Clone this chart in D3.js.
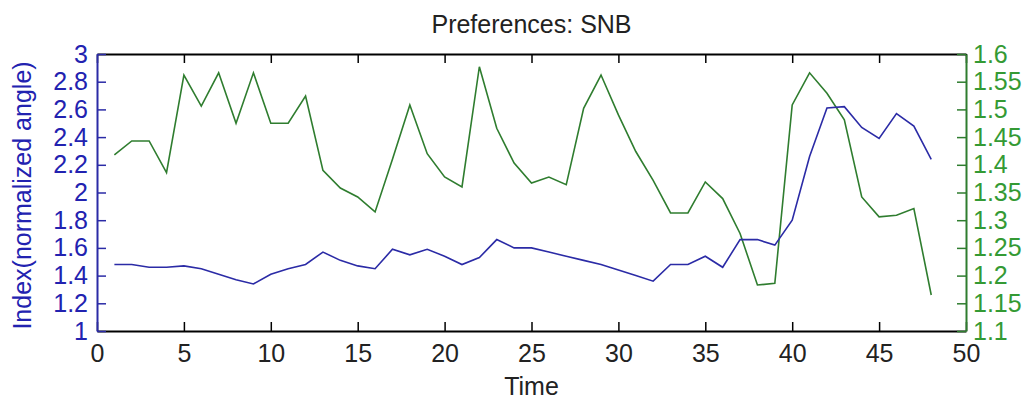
<!DOCTYPE html>
<html>
<head>
<meta charset="utf-8">
<script src="https://cdn.jsdelivr.net/npm/d3@7"></script>
<style>
  body { margin: 0; background: #fff; }
  svg text { font-family: "Liberation Sans", Arial, sans-serif; }
</style>
</head>
<body>
<svg id="chart"></svg>
<script>
const width = 1027;
const height = 401;
const margin = {top: 54, right: 61, bottom: 70, left: 97};

// data
const time = d3.range(1, 49);
const indexValues = [1.48, 1.48, 1.46, 1.46, 1.47, 1.45, 1.41, 1.37, 1.34, 1.41,
                     1.45, 1.48, 1.57, 1.51, 1.47, 1.45, 1.59, 1.55, 1.59, 1.54,
                     1.48, 1.53, 1.66, 1.60, 1.60, 1.57, 1.54, 1.51, 1.48, 1.44,
                     1.40, 1.36, 1.48, 1.48, 1.54, 1.46, 1.66, 1.66, 1.62, 1.80,
                     2.26, 2.61, 2.62, 2.47, 2.39, 2.57, 2.48, 2.24];
const prefValues = [1.418, 1.443, 1.443, 1.386, 1.562, 1.506, 1.566, 1.475, 1.566, 1.475,
                    1.475, 1.524, 1.390, 1.358, 1.342, 1.315, 1.410, 1.508, 1.420, 1.378,
                    1.360, 1.577, 1.466, 1.403, 1.367, 1.378, 1.364, 1.502, 1.562, 1.490,
                    1.424, 1.372, 1.313, 1.313, 1.369, 1.339, 1.276, 1.183, 1.186, 1.508,
                    1.566, 1.529, 1.481, 1.342, 1.306, 1.309, 1.321, 1.165];
const xTicks = d3.range(0, 51, 5);
const yLeftTicks = [1, 1.2, 1.4, 1.6, 1.8, 2, 2.2, 2.4, 2.6, 2.8, 3];
const yRightTicks = [1.1, 1.15, 1.2, 1.25, 1.3, 1.35, 1.4, 1.45, 1.5, 1.55, 1.6];

const blue = '#2b2ba6';
const blueText = '#2222b0';
const green = '#2f7d2f';
const greenText = '#349a34';
const fontSize = 25;

const svg = d3.select('#chart')
            .attr('width', width)
            .attr('height', height);

const x = d3.scaleLinear().domain([0, 50]).range([margin.left, width - margin.right]);
const yLeft = d3.scaleLinear().domain([1, 3]).range([height - margin.bottom, margin.top]);
const yRight = d3.scaleLinear().domain([1.1, 1.6]).range([height - margin.bottom, margin.top]);

const fmt = d => String(d);
const tickSize = 9;

// top and bottom frame lines with inward ticks
const xAxis = svg.append('g')
    .attr('transform', `translate(0, ${height - margin.bottom})`)
    .call(d3.axisBottom(x).tickValues(xTicks).tickFormat(fmt).tickSizeInner(-tickSize).tickSizeOuter(0).tickPadding(13));
xAxis.select('.domain').attr('stroke', '#000').attr('stroke-width', 2);
xAxis.selectAll('.tick line').attr('stroke', '#000').attr('stroke-width', 1.5);
xAxis.selectAll('.tick text').attr('font-size', fontSize).attr('fill', '#222');

const xTop = svg.append('g')
    .attr('transform', `translate(0, ${margin.top})`)
    .call(d3.axisTop(x).tickValues(xTicks).tickFormat('').tickSizeInner(-tickSize).tickSizeOuter(0));
xTop.select('.domain').attr('stroke', '#000').attr('stroke-width', 2);
xTop.selectAll('.tick line').attr('stroke', '#000').attr('stroke-width', 1.5);

const yAxisL = svg.append('g')
    .attr('transform', `translate(${margin.left}, 0)`)
    .call(d3.axisLeft(yLeft).tickValues(yLeftTicks).tickFormat(fmt).tickSizeInner(-tickSize).tickSizeOuter(0).tickPadding(9));
yAxisL.select('.domain').attr('stroke', blue).attr('stroke-width', 2);
yAxisL.selectAll('.tick line').attr('stroke', blue).attr('stroke-width', 1.5);
yAxisL.selectAll('.tick text').attr('font-size', fontSize).attr('fill', blueText);

const yAxisR = svg.append('g')
    .attr('transform', `translate(${width - margin.right}, 0)`)
    .call(d3.axisRight(yRight).tickValues(yRightTicks).tickFormat(fmt).tickSizeInner(-tickSize).tickSizeOuter(0).tickPadding(7));
yAxisR.select('.domain').attr('stroke', green).attr('stroke-width', 2);
yAxisR.selectAll('.tick line').attr('stroke', green).attr('stroke-width', 1.5);
yAxisR.selectAll('.tick text').attr('font-size', fontSize).attr('fill', greenText);

const lineLeft = d3.line()
    .x((d, i) => x(time[i]))
    .y(d => yLeft(d));
const lineRight = d3.line()
    .x((d, i) => x(time[i]))
    .y(d => yRight(d));

svg.append('path')
    .datum(prefValues)
    .attr('fill', 'none')
    .attr('stroke', green)
    .attr('stroke-width', 1.6)
    .attr('d', lineRight);

svg.append('path')
    .datum(indexValues)
    .attr('fill', 'none')
    .attr('stroke', blue)
    .attr('stroke-width', 1.6)
    .attr('d', lineLeft);

svg.append('text')
    .attr('x', (margin.left + width - margin.right) / 2)
    .attr('y', 33)
    .attr('text-anchor', 'middle')
    .attr('font-size', fontSize)
    .attr('fill', '#222')
    .text('Preferences: SNB');

svg.append('text')
    .attr('x', (margin.left + width - margin.right) / 2)
    .attr('y', 395)
    .attr('text-anchor', 'middle')
    .attr('font-size', fontSize)
    .attr('fill', '#222')
    .text('Time');

svg.append('text')
    .attr('transform', `translate(31, ${(margin.top + height - margin.bottom) / 2 + 3}) rotate(-90)`)
    .attr('text-anchor', 'middle')
    .attr('font-size', fontSize)
    .attr('fill', blueText)
    .text('Index(normalized angle)');
</script>
</body>
</html>
